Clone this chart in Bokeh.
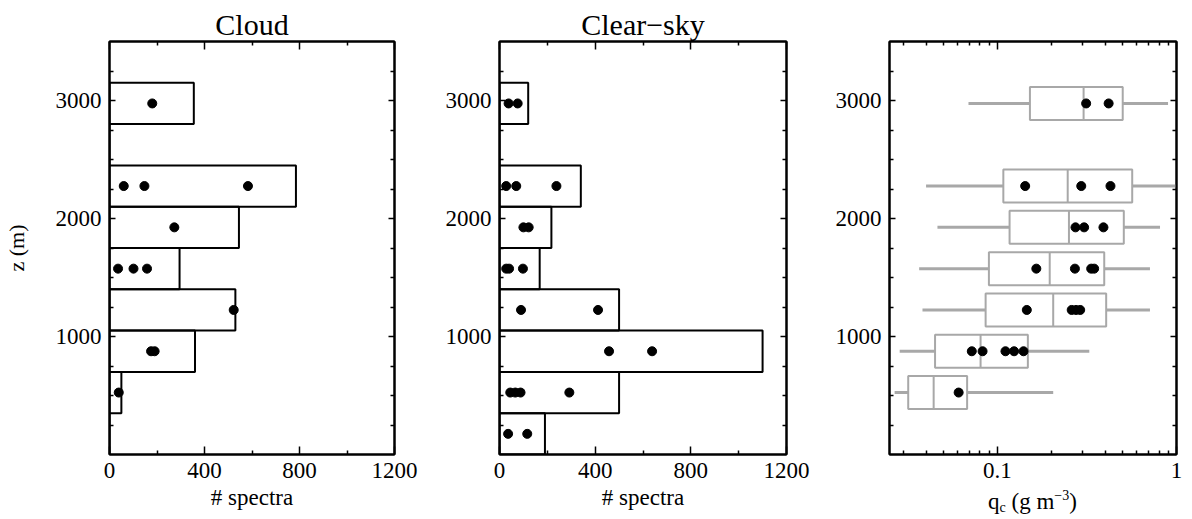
from bokeh.plotting import figure
from bokeh.models import Range1d, LinearAxis, LogAxis, FixedTicker, CustomJSTickFormatter, Div
from bokeh.layouts import row, column
from bokeh.embed import file_html
from bokeh.resources import INLINE

# ---------------- data ----------------
bin_centers = [175, 525, 875, 1225, 1575, 1925, 2275, 2625, 2975]
bin_height = 350
cloud_counts = [0, 50, 360, 530, 295, 545, 785, 0, 355]
clear_counts = [190, 500, 1100, 500, 168, 217, 340, 0, 120]

cloud_dot_z = [525, 875, 875, 1225, 1575, 1575, 1575, 1925, 2275, 2275, 2275, 2975]
cloud_dot_n = [39, 175, 190, 523, 36, 101, 158, 273, 60, 147, 583, 180]

clear_dot_z = [175, 175, 525, 525, 525, 525, 875, 875, 1225, 1225,
               1575, 1575, 1575, 1925, 1925, 2275, 2275, 2275, 2975, 2975]
clear_dot_n = [36, 116, 45, 66, 88, 292, 458, 638, 90, 412,
               28, 40, 98, 100, 122, 28, 70, 238, 38, 76]

box_z = [525, 875, 1225, 1575, 1925, 2275, 2975]
whisk_lo = [0.0267, 0.0285, 0.0382, 0.0366, 0.0463, 0.040, 0.069]
q1 = [0.0318, 0.0449, 0.086, 0.0897, 0.117, 0.108, 0.152]
med = [0.0441, 0.0806, 0.205, 0.196, 0.251, 0.247, 0.303]
q3 = [0.0678, 0.148, 0.405, 0.395, 0.508, 0.566, 0.501]
whisk_hi = [0.205, 0.326, 0.711, 0.711, 0.809, 1.0, 0.897]
box_height = 280

qc_dot_z = [525, 875, 875, 875, 875, 875, 1225, 1225, 1225, 1225,
            1575, 1575, 1575, 1575, 1925, 1925, 1925, 2275, 2275, 2275, 2975, 2975]
qc_dot_v = [0.0608, 0.072, 0.0827, 0.111, 0.124, 0.14, 0.146, 0.26, 0.275, 0.29,
            0.165, 0.271, 0.334, 0.347, 0.273, 0.305, 0.391, 0.143, 0.294, 0.428, 0.313, 0.418]

count_ticks = [0, 400, 800, 1200]
count_minor = [200, 600, 1000]
z_ticks = [1000, 2000, 3000]
z_minor = [250, 500, 750, 1250, 1500, 1750, 2250, 2500, 2750, 3250]
qc_ticks = [0.1, 1]
qc_minor = [0.03, 0.04, 0.05, 0.06, 0.07, 0.08, 0.09, 0.2, 0.3, 0.4, 0.5, 0.6, 0.7, 0.8, 0.9]

FONT = "Liberation Serif"
TICK_SIZE = "23px"
GRAY = "#a8a8a8"


def make_fig(width, height, left, right, bottom_border, title, log=False):
    kw = dict(width=width, height=height, output_backend="svg", toolbar_location=None,
              min_border_left=left, min_border_right=right, min_border_top=41,
              min_border_bottom=bottom_border, y_range=Range1d(0, 3500), title=title)
    if log:
        kw["x_axis_type"] = "log"
        kw["x_range"] = Range1d(0.025, 1)
        xt = FixedTicker(ticks=qc_ticks, minor_ticks=qc_minor)
    else:
        kw["x_range"] = Range1d(0, 1200)
        xt = FixedTicker(ticks=count_ticks, minor_ticks=count_minor)
    p = figure(**kw)
    p.grid.visible = False
    p.outline_line_color = "black"
    p.outline_line_width = 2
    p.background_fill_color = "white"
    p.border_fill_color = "white"
    p.title.text_font = FONT
    p.title.text_font_size = "30px"
    p.title.text_font_style = "normal"
    p.title.text_color = "black"
    p.title.align = "center"
    p.title.standoff = 2
    p.title.offset = 0
    yt = FixedTicker(ticks=z_ticks, minor_ticks=z_minor)
    bottom = p.below[0]
    left_ax = p.left[0]
    bottom.ticker = xt
    left_ax.ticker = yt
    blank = CustomJSTickFormatter(code="return ''")
    if log:
        bottom.major_label_overrides = {0.1: "0.1", 1: "1"}
        top = LogAxis(ticker=xt, formatter=blank)
    else:
        top = LinearAxis(ticker=xt, formatter=blank)
    right_ax = LinearAxis(ticker=yt, formatter=blank)
    p.add_layout(top, "above")
    p.add_layout(right_ax, "right")
    for ax in [bottom, top]:
        ax.major_tick_in = 8
        ax.major_tick_out = 0
        ax.minor_tick_in = 4
        ax.minor_tick_out = 0
    for ax in [left_ax, right_ax]:
        ax.major_tick_in = 6
        ax.major_tick_out = 0
        ax.minor_tick_in = 4
        ax.minor_tick_out = 0
    for ax in [bottom, left_ax, top, right_ax]:
        ax.axis_line_color = "black"
        ax.axis_line_width = 2
        ax.major_tick_line_color = "black"
        ax.major_tick_line_width = 1.5
        ax.minor_tick_line_color = "black"
        ax.minor_tick_line_width = 1.5
        ax.major_label_text_font = FONT
        ax.major_label_text_font_size = TICK_SIZE
        ax.major_label_text_color = "black"
        ax.axis_label_text_font = FONT
        ax.axis_label_text_font_size = TICK_SIZE
        ax.axis_label_text_font_style = "normal"
        ax.axis_label_text_color = "black"
    for ax in [top, right_ax]:
        ax.major_label_standoff = 0
    bottom.major_label_standoff = 8
    bottom.axis_label_standoff = 4
    left_ax.major_label_standoff = 8
    return p, bottom, left_ax


# ---- Cloud ----
p1, b1, l1 = make_fig(420, 519, 108, 26, 65, "Cloud")
p1.hbar(y=bin_centers, height=bin_height, left=0, right=cloud_counts,
        fill_color=None, line_color="black", line_width=2)
p1.scatter(cloud_dot_n, cloud_dot_z, size=9, color="black")
b1.axis_label = "# spectra"
l1.axis_label = "z (m)"
l1.axis_label_standoff = 24
l1.axis_label_text_font_size = "22px"

# ---- Clear-sky ----
p2, b2, l2 = make_fig(410, 519, 79, 44, 65, "Clear\u2212sky")
p2.hbar(y=bin_centers, height=bin_height, left=0, right=clear_counts,
        fill_color=None, line_color="black", line_width=2)
p2.scatter(clear_dot_n, clear_dot_z, size=9, color="black")
b2.axis_label = "# spectra"

# ---- q_c box plots ----
p3, b3, l3 = make_fig(362, 489, 59, 16, 35, "", log=True)
p3.segment(x0=whisk_lo, y0=box_z, x1=q1, y1=box_z, line_color=GRAY, line_width=3)
p3.segment(x0=q3, y0=box_z, x1=whisk_hi, y1=box_z, line_color=GRAY, line_width=3)
p3.hbar(y=box_z, height=box_height, left=q1, right=q3,
        fill_color=None, line_color=GRAY, line_width=2)
p3.segment(x0=med, y0=[z - box_height / 2 for z in box_z], x1=med,
           y1=[z + box_height / 2 for z in box_z], line_color=GRAY, line_width=2)
p3.scatter(qc_dot_v, qc_dot_z, size=9, color="black")

# x-axis label q_c (g m^-3) with real sub/superscripts
qc_label = Div(
    text=("<div style=\"width:287px;margin-left:59px;text-align:center;"
          "font-family:'Liberation Serif';font-size:23px;line-height:23px;color:black;"
          "padding-top:1px;\">"
          "q<span style=\"font-size:14px;position:relative;top:3px;\">c</span>"
          " (g m<span style=\"font-size:14px;position:relative;top:-9px;\">\u22123</span>)"
          "</div>"),
    width=362, height=30, margin=(0, 0, 0, 0))

layout = row(p1, p2, column(p3, qc_label, spacing=0))
open("out.html", "w").write(file_html(layout, INLINE))
